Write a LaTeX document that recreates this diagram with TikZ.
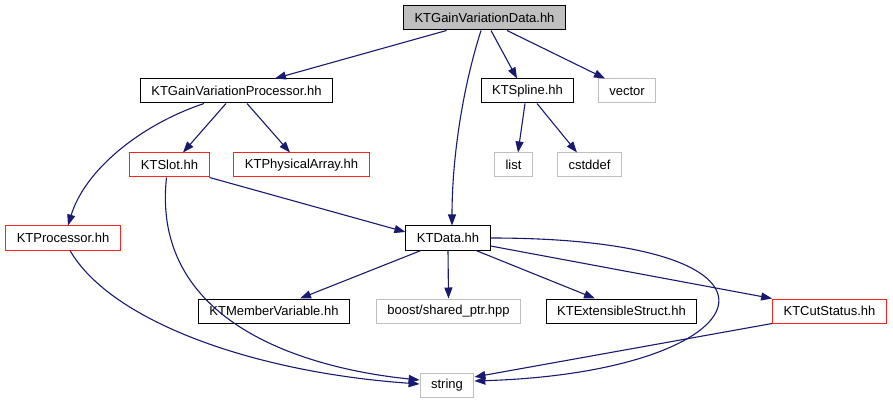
\documentclass[tikz,border=0pt]{standalone}
\usepackage{fontspec}
\setmainfont{Liberation Sans}
\usetikzlibrary{arrows.meta}

\definecolor{edgeblue}{HTML}{191970}
\definecolor{boxgray}{HTML}{BFBFBF}
\definecolor{boxred}{HTML}{FF2020}

\begin{document}
\begin{tikzpicture}[x=1pt,y=-1pt,
		hdr/.style={draw=black,line width=1pt,minimum height=24pt,inner xsep=11pt,inner ysep=0pt,font=\fontsize{13}{15}\selectfont},
		hdrroot/.style={hdr,fill=boxgray},
		hdrred/.style={hdr,draw=boxred},
		sysinc/.style={hdr,draw=boxgray},
		dep/.style={draw=edgeblue,line width=1.1pt,-{Triangle[length=11pt,width=8pt]}}]
			\useasboundingbox (0,0) rectangle (893,403);
			% header nodes
			\node[hdrroot] (gvd) at (484.5,18) {KTGainVariationData.hh};
			\node[hdr] (gvp) at (236.5,91) {KTGainVariationProcessor.hh};
			\node[hdr] (spline) at (527.5,91) {KTSpline.hh};
			\node[sysinc] (vector) at (627,91) {vector};
			\node[hdrred] (slot) at (169.5,165) {KTSlot.hh};
			\node[hdrred] (parray) at (301.5,165) {KTPhysicalArray.hh};
			\node[sysinc] (list) at (513.5,165) {list};
			\node[sysinc] (cstddef) at (589.5,165) {cstddef};
			\node[hdrred] (proc) at (63,238) {KTProcessor.hh};
			\node[hdr] (data) at (448,238) {KTData.hh};
			\node[hdr] (member) at (274,311) {KTMemberVariable.hh};
			\node[sysinc] (boost) at (448.5,311) {boost/shared\_ptr.hpp};
			\node[hdr] (ext) at (621.5,311) {KTExtensibleStruct.hh};
			\node[hdrred] (cut) at (829.5,311) {KTCutStatus.hh};
			\node[sysinc] (string) at (447,385) {string};
			% includes
			\draw[dep] ([xshift=-38pt]gvd.south) -- ([xshift=38.5pt]gvp.north);
			\draw[dep] ([xshift=-3.5pt]gvd.south) .. controls (462,90) and (452,160) .. ([xshift=4pt]data.north);
			\draw[dep] ([xshift=6.5pt]gvd.south) -- ([xshift=-10.5pt]spline.north);
			\draw[dep] ([xshift=22.5pt]gvd.south) -- ([xshift=-22pt]vector.north);
			\draw[dep] ([xshift=-10.5pt]gvp.south) -- ([xshift=13.5pt]slot.north);
			\draw[dep] ([xshift=10.5pt]gvp.south) -- ([xshift=-11.5pt]parray.north);
			\draw[dep] ([xshift=-32.5pt]gvp.south) .. controls (140,125) and (85,170) .. ([xshift=5pt]proc.north);
			\draw[dep] (slot.south east) -- ([yshift=6pt]data.west);
			\draw[dep] ([xshift=-3pt]slot.south) .. controls (150,330) and (320,370) .. ([yshift=5pt]string.west);
			\draw[dep] ([xshift=-2.5pt]spline.south) -- ([xshift=4.5pt]list.north);
			\draw[dep] ([xshift=9.5pt]spline.south) -- ([xshift=-12.5pt]cstddef.north);
			\draw[dep] ([xshift=7pt]proc.south) .. controls (110,320) and (250,372) .. ([yshift=1pt]string.west);
			\draw[dep] ([xshift=-27pt]data.south) -- ([xshift=26pt]member.north);
			\draw[dep] (data.south) -- (boost.north);
			\draw[dep] ([xshift=28pt]data.south) -- ([xshift=-26.5pt]ext.north);
			\draw[dep] ([yshift=-8pt]data.east) -- (cut.north west);
			\draw[dep] (data.east) .. controls (825,238) and (765,372) .. ([yshift=4pt]string.east);
			\draw[dep] (cut.south west) -- ([yshift=8pt]string.east);
		\end{tikzpicture}
\end{document}
